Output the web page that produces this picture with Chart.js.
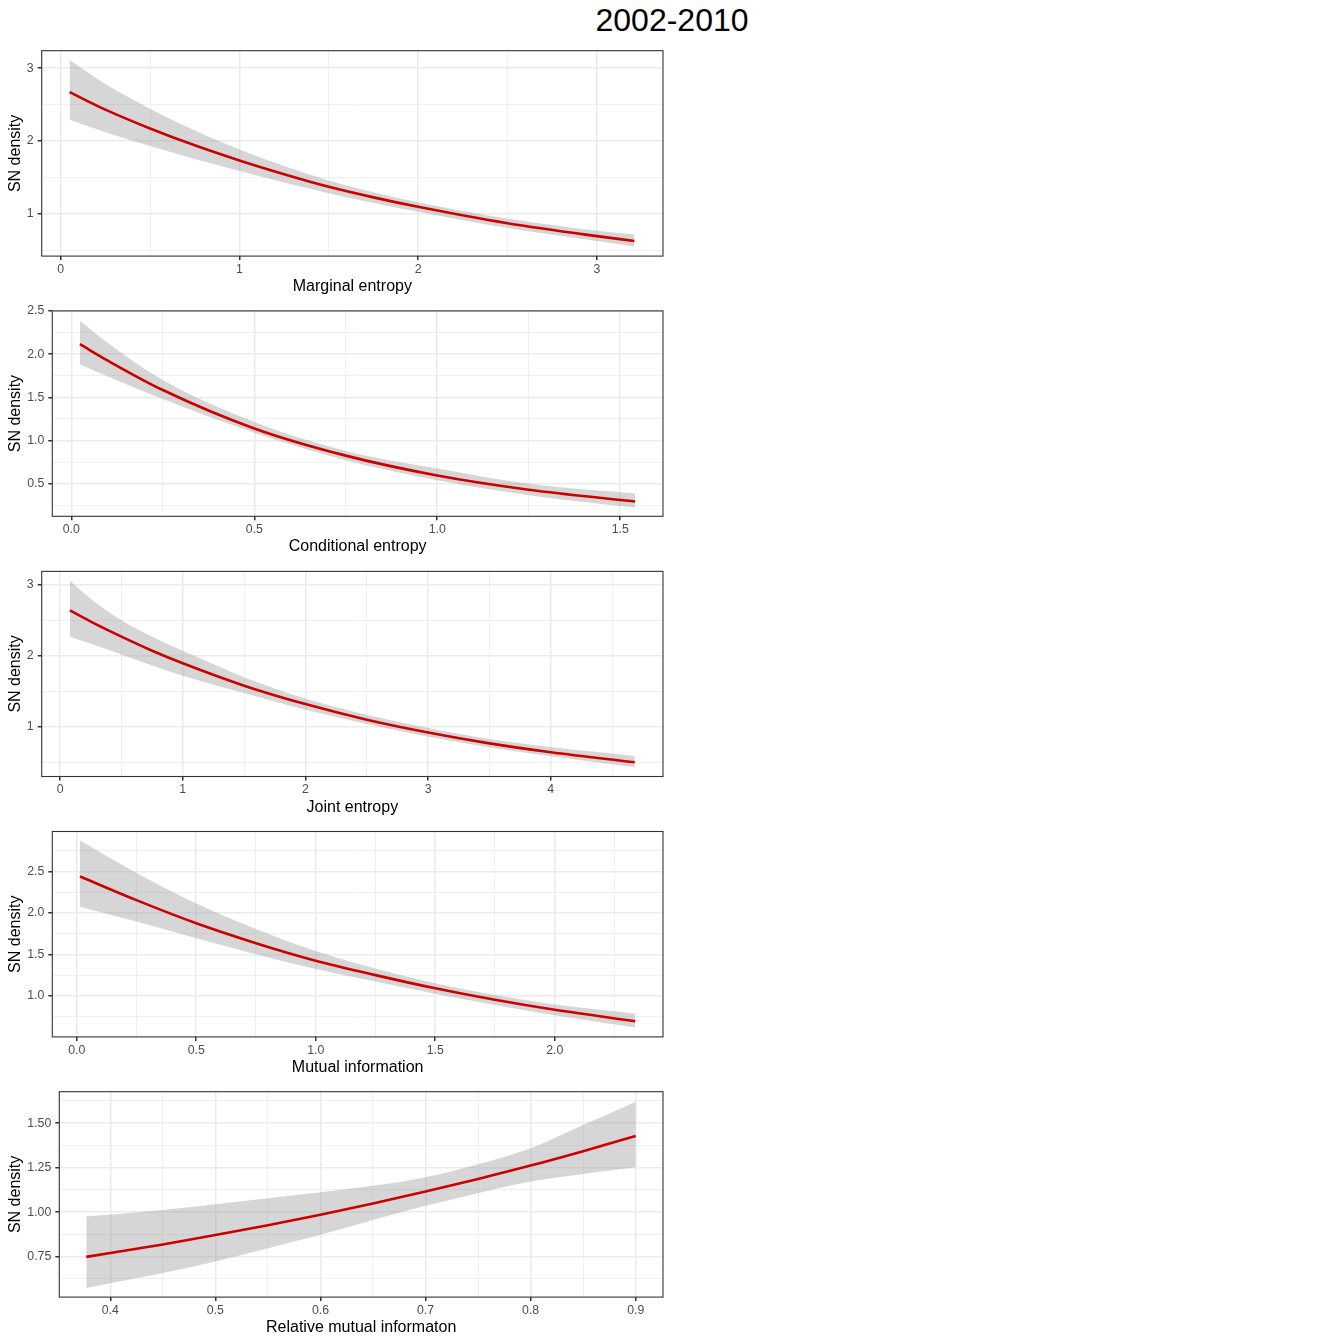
<!DOCTYPE html>
<html lang="en">
<head>
<meta charset="UTF-8" />
<title>2002-2010</title>
<script src="https://cdn.jsdelivr.net/npm/chart.js@4/dist/chart.umd.min.js"></script>
<style>
  body { margin: 0; background: #fff; width: 1344px; height: 1344px; position: relative; overflow: hidden; }
  #title { position: absolute; top: 4px; left: 0; width: 1344px; text-align: center;
           font: 32px "Liberation Sans", Arial, sans-serif; line-height: 32px; color: #000; }
  canvas { position: absolute; left: 0; }
</style>
</head>
<body>
<div id="title">2002-2010</div>
<canvas id="c1" width="672" height="260"></canvas>
<canvas id="c2" width="672" height="260"></canvas>
<canvas id="c3" width="672" height="260"></canvas>
<canvas id="c4" width="672" height="260"></canvas>
<canvas id="c5" width="672" height="260"></canvas>
<script>
// Marginal entropy
const meX     = [0.05, 0.25, 0.5, 0.75, 1.0, 1.25, 1.5, 1.75, 2.0, 2.5, 3.0, 3.21];
const meFit   = [2.67, 2.43, 2.172, 1.94, 1.732, 1.543, 1.37, 1.225, 1.095, 0.869, 0.692, 0.626];
const meUpper = [3.111, 2.782, 2.443, 2.144, 1.884, 1.657, 1.458, 1.296, 1.159, 0.934, 0.765, 0.714];
const meLower = [2.291, 2.119, 1.929, 1.752, 1.587, 1.429, 1.280, 1.149, 1.027, 0.804, 0.625, 0.548];

// Conditional entropy
const ceX     = [0.0235, 0.1, 0.25, 0.5, 0.75, 1.0, 1.25, 1.541];
const ceFit   = [2.116, 1.925, 1.585, 1.14, 0.825, 0.595, 0.43, 0.293];
const ceUpper = [2.386, 2.13, 1.70, 1.216, 0.88, 0.676, 0.50, 0.386];
const ceLower = [1.88, 1.742, 1.48, 1.089, 0.771, 0.54, 0.367, 0.224];

// Joint entropy
const jeX     = [0.08, 0.25, 0.5, 0.75, 1.0, 1.5, 2.0, 2.5, 3.0, 3.5, 4.0, 4.685];
const jeFit   = [2.64, 2.483, 2.27, 2.072, 1.895, 1.58, 1.32, 1.10, 0.92, 0.767, 0.642, 0.50];
const jeUpper = [3.06, 2.80, 2.50, 2.27, 2.07, 1.70, 1.40, 1.17, 0.985, 0.83, 0.715, 0.59];
const jeLower = [2.27, 2.17, 2.02, 1.865, 1.72, 1.475, 1.24, 1.04, 0.86, 0.71, 0.585, 0.43];

// Mutual information
const miX     = [0.014, 0.25, 0.5, 0.75, 1.0, 1.25, 1.5, 1.75, 2.0, 2.337];
const miFit   = [2.44, 2.155, 1.876, 1.636, 1.424, 1.25, 1.091, 0.952, 0.831, 0.694];
const miUpper = [2.874, 2.483, 2.116, 1.808, 1.541, 1.329, 1.152, 1.009, 0.895, 0.786];
const miLower = [2.076, 1.896, 1.694, 1.502, 1.323, 1.173, 1.026, 0.889, 0.766, 0.617];

// Relative mutual informaton
const rmiX     = [0.3772, 0.45, 0.5, 0.55, 0.6, 0.65, 0.7, 0.75, 0.8, 0.85, 0.9];
const rmiFit   = [0.749, 0.819, 0.872, 0.927, 0.986, 1.049, 1.116, 1.187, 1.262, 1.343, 1.428];
const rmiUpper = [0.976, 1.013, 1.045, 1.079, 1.112, 1.148, 1.196, 1.269, 1.359, 1.49, 1.621];
const rmiLower = [0.574, 0.658, 0.723, 0.798, 0.873, 0.956, 1.036, 1.107, 1.172, 1.215, 1.252];

const yTitle = 'SN density';
const FONT = '"Liberation Sans", Arial, sans-serif';
const CANVAS_H = 260;
const PLOT_H = 205.4;
const PLOT_RIGHT = 663;

function isMajor(v, m) {
  return Math.abs(v / m - Math.round(v / m)) < 1e-6;
}

function pts(xs, ys) {
  return xs.map((x, i) => ({ x: x, y: ys[i] }));
}

// panel border drawn over everything, like theme_bw
const borderPlugin = {
  id: 'panelBorder',
  afterDraw(chart) {
    const a = chart.chartArea, ctx = chart.ctx;
    ctx.save();
    ctx.strokeStyle = '#333333';
    ctx.lineWidth = 1.1;
    ctx.strokeRect(a.left, a.top, a.right - a.left, a.bottom - a.top);
    ctx.restore();
  }
};

function axis(min, max, step, major, dec, isX, title, size) {
  return {
    type: 'linear',
    min: min,
    max: max,
    border: { display: false },
    grid: {
      color: '#EBEBEB',
      lineWidth: c => (c.tick && isMajor(c.tick.value, major)) ? 1.5 : 0.75,
      tickColor: c => (c.tick && isMajor(c.tick.value, major)) ? '#333333' : 'rgba(0,0,0,0)',
      tickLength: 4,
      drawTicks: true
    },
    ticks: {
      stepSize: step,
      includeBounds: false,
      autoSkip: false,
      maxRotation: 0,
      padding: isX ? 2 : 4,
      color: '#4D4D4D',
      font: { family: FONT, size: 12.3 },
      callback: v => isMajor(v, major) ? v.toFixed(dec) : ''
    },
    title: {
      display: true,
      text: title,
      color: '#000',
      font: { family: FONT, size: 16 },
      padding: isX ? { top: 0, bottom: 2.5 } : { top: 5.5, bottom: 0 }
    },
    afterFit: s => {
      if (isX) s.height = size; else s.width = size;
    }
  };
}

function makePanel(id, p) {
  const canvas = document.getElementById(id);
  const canvasTop = Math.floor(p.plotTop) - 11;
  const padTop = p.plotTop - canvasTop;
  canvas.style.top = canvasTop + 'px';
  new Chart(canvas, {
    type: 'line',
    data: {
      datasets: [
        {
          data: pts(p.x, p.upper),
          order: 2,
          borderWidth: 0,
          pointRadius: 0,
          backgroundColor: 'rgba(153,153,153,0.4)',
          fill: '+1',
          cubicInterpolationMode: 'monotone'
        },
        {
          data: pts(p.x, p.lower),
          order: 3,
          borderWidth: 0,
          pointRadius: 0,
          fill: false,
          cubicInterpolationMode: 'monotone'
        },
        {
          data: pts(p.x, p.fit),
          order: 0,
          borderColor: '#CD0000',
          borderWidth: 2.6,
          pointRadius: 0,
          fill: false,
          cubicInterpolationMode: 'monotone'
        }
      ]
    },
    options: {
      responsive: false,
      animation: false,
      layout: { padding: { top: padTop, right: 672 - PLOT_RIGHT, left: 0, bottom: 0 } },
      plugins: { legend: { display: false }, tooltip: { enabled: false } },
      scales: {
        x: axis(p.xMin, p.xMax, p.xStep, p.xMajor, p.xDec, true, p.xTitle, CANVAS_H - padTop - PLOT_H),
        y: axis(p.yMin, p.yMax, p.yStep, p.yMajor, p.yDec, false, yTitle, p.plotLeft)
      }
    },
    plugins: [borderPlugin]
  });
}

makePanel('c1', {
  plotTop: 50.7, plotLeft: 41.7, xTitle: 'Marginal entropy',
  x: meX, fit: meFit, upper: meUpper, lower: meLower,
  xMin: -0.106, xMax: 3.37, xStep: 0.5, xMajor: 1, xDec: 0,
  yMin: 0.418, yMax: 3.24, yStep: 0.5, yMajor: 1, yDec: 0
});
makePanel('c2', {
  plotTop: 310.9, plotLeft: 52.3, xTitle: 'Conditional entropy',
  x: ceX, fit: ceFit, upper: ceUpper, lower: ceLower,
  xMin: -0.052, xMax: 1.617, xStep: 0.25, xMajor: 0.5, xDec: 1,
  yMin: 0.122, yMax: 2.502, yStep: 0.25, yMajor: 0.5, yDec: 1
});
makePanel('c3', {
  plotTop: 571.1, plotLeft: 41.7, xTitle: 'Joint entropy',
  x: jeX, fit: jeFit, upper: jeUpper, lower: jeLower,
  xMin: -0.15, xMax: 4.915, xStep: 0.5, xMajor: 1, xDec: 0,
  yMin: 0.30, yMax: 3.19, yStep: 0.5, yMajor: 1, yDec: 0
});
makePanel('c4', {
  plotTop: 831.5, plotLeft: 52.3, xTitle: 'Mutual information',
  x: miX, fit: miFit, upper: miUpper, lower: miLower,
  xMin: -0.102, xMax: 2.453, xStep: 0.25, xMajor: 0.5, xDec: 1,
  yMin: 0.504, yMax: 2.984, yStep: 0.25, yMajor: 0.5, yDec: 1
});
makePanel('c5', {
  plotTop: 1091.7, plotLeft: 59.3, xTitle: 'Relative mutual informaton',
  x: rmiX, fit: rmiFit, upper: rmiUpper, lower: rmiLower,
  xMin: 0.3515, xMax: 0.926, xStep: 0.05, xMajor: 0.1, xDec: 1,
  yMin: 0.523, yMax: 1.677, yStep: 0.125, yMajor: 0.25, yDec: 2
});
</script>
</body>
</html>
